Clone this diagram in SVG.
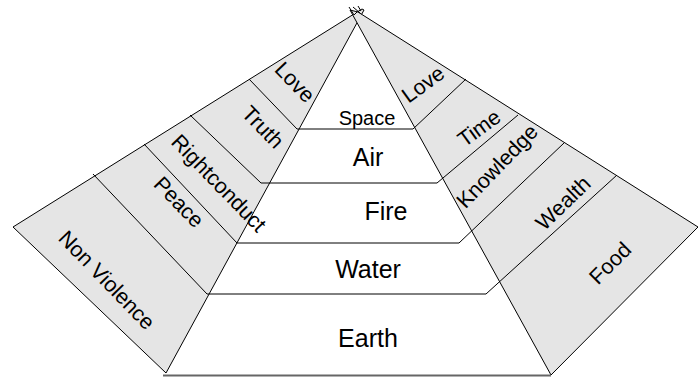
<svg xmlns="http://www.w3.org/2000/svg" width="698" height="377" viewBox="0 0 698 377">
<style>
.fan{fill:#e5e5e5;stroke:#000;stroke-width:1;stroke-linejoin:miter}
.ln{fill:none;stroke:#000;stroke-width:1}
text{font-family:"Liberation Sans",Arial,sans-serif;fill:#000;text-anchor:middle}
.big{font-size:25px}
.lab{font-size:21.5px}
</style>
<rect x="0" y="0" width="698" height="377" fill="#fff"/>
<g id="fan-left">
<polygon class="fan" points="364,10 362,9 13,227 166,373"/>
</g>
<g id="fan-right">
<polygon class="fan" points="350,10 358,12 698,227 551,375"/>
</g>
<g id="top-marks">
<path class="ln" d="M349,7 L354,15 L357,12 M353,7 L360,13 M358,6 L361,11"/>
</g>
<g id="connectors">
<polyline class="ln" points="249,79 297,129 413,129 466,79"/>
<polyline class="ln" points="190,115 261,183 437,183 518,115"/>
<polyline class="ln" points="144,144 237,243 459,243 564,143"/>
<polyline class="ln" points="93,174 207,294 486,294 617,175"/>
<line x1="163" y1="375.5" x2="551" y2="375.5" stroke="#666" stroke-width="2"/>
</g>
<g id="layer-space"><text x="367" y="125" font-size="20">Space</text></g>
<g id="layer-air"><text class="big" x="368" y="166">Air</text></g>
<g id="layer-fire"><text class="big" x="386" y="220">Fire</text></g>
<g id="layer-water"><text class="big" x="368" y="278">Water</text></g>
<g id="layer-earth"><text class="big" x="368" y="347">Earth</text></g>
<g id="label-love-left"><text class="lab" transform="translate(295,82) rotate(46)" y="7.5">Love</text></g>
<g id="label-truth"><text class="lab" transform="translate(263,127) rotate(46)" y="7.5">Truth</text></g>
<g id="label-rightconduct"><text class="lab" transform="translate(219,183) rotate(46)" y="7.5">Rightconduct</text></g>
<g id="label-peace"><text class="lab" transform="translate(179,202) rotate(46)" y="7.5">Peace</text></g>
<g id="label-nonviolence"><text class="lab" transform="translate(107,280) rotate(46)" y="7.5">Non Violence</text></g>
<g id="label-love-right"><text class="lab" transform="translate(423,84) rotate(-36)" y="7.5">Love</text></g>
<g id="label-time"><text class="lab" transform="translate(479,128) rotate(-36)" y="7.5">Time</text></g>
<g id="label-knowledge"><text class="lab" transform="translate(497,166) rotate(-46)" y="7.5">Knowledge</text></g>
<g id="label-wealth"><text class="lab" transform="translate(563,203) rotate(-44)" y="7.5">Wealth</text></g>
<g id="label-food"><text class="lab" transform="translate(610,263) rotate(-45)" y="7.5">Food</text></g>
</svg>
